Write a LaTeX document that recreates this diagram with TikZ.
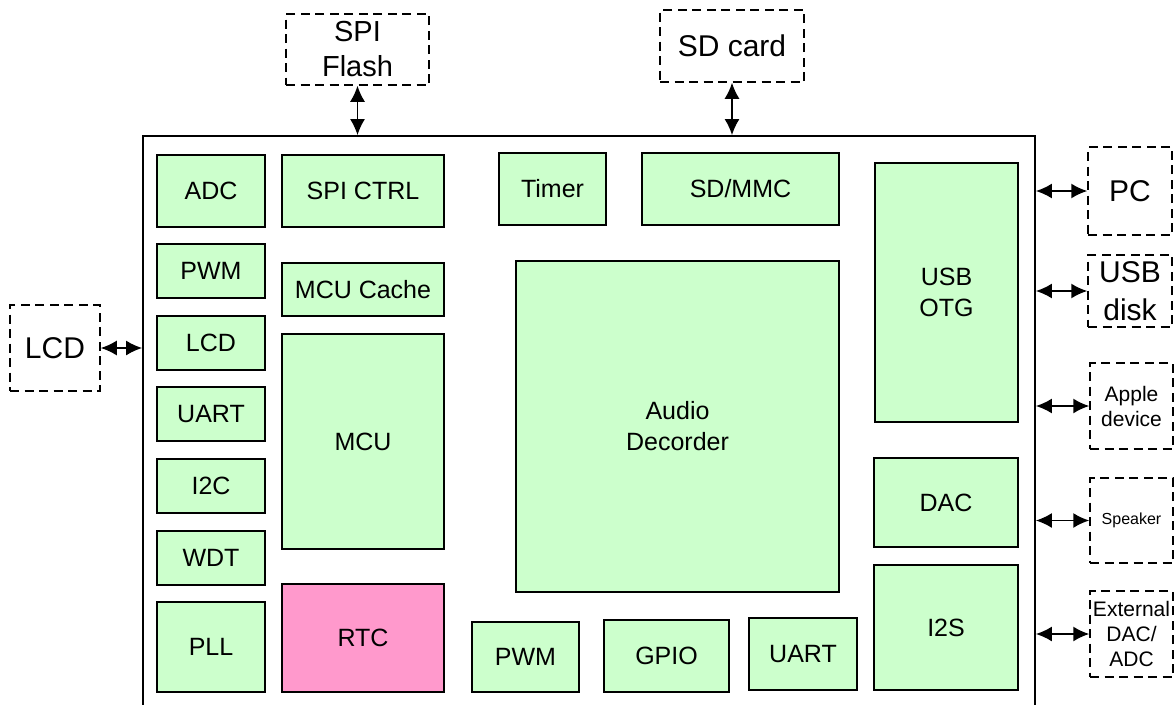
\documentclass[tikz,border=0pt]{standalone}
\usepackage{fontspec}
\setmainfont{Liberation Sans}
\usepackage{tikz}
\usetikzlibrary{arrows.meta}

\definecolor{blkgreen}{HTML}{CCFFCC}
\definecolor{blkpink}{HTML}{FF99CC}

\tikzset{
  blk/.style={draw, line width=1.6pt, fill=blkgreen, inner sep=0pt, align=center,
    font=\fontsize{25}{31}\selectfont},
  extdev/.style={draw, dashed, dash pattern=on 9pt off 5.5pt, line width=1.5pt,
    inner sep=0pt, align=center, font=\fontsize{30}{36}\selectfont},
  boxsize/.style 2 args={minimum width=#1pt, minimum height=#2pt},
  link/.style={{Latex[length=16pt,width=15pt]}-{Latex[length=16pt,width=15pt]}, line width=1.6pt}
}

\begin{document}
\begin{tikzpicture}[x=1pt,y=-1pt]
\useasboundingbox (0,0) rectangle (1175,704);

% chip outline (runs off the bottom)
\node[draw, line width=1.8pt, boxsize={892}{584}] (chip) at (589,428) {};

% left column
\node[blk, boxsize={108}{72}] (adc) at (211,191) {ADC};
\node[blk, boxsize={108}{54}] (pwml) at (211,271) {PWM};
\node[blk, boxsize={108}{54}] (lcd) at (211,343) {LCD};
\node[blk, boxsize={108}{54}] (uartl) at (211,414) {UART};
\node[blk, boxsize={108}{54}] (i2c) at (211,486) {I2C};
\node[blk, boxsize={108}{54}] (wdt) at (211,558) {WDT};
\node[blk, boxsize={108}{90}] (pll) at (211,647) {PLL};

% second column
\node[blk, boxsize={162}{72}] (spictrl) at (363,191) {SPI CTRL};
\node[blk, boxsize={162}{53}] (cache) at (363,289.5) {MCU Cache};
\node[blk, boxsize={162}{215}] (mcu) at (363,441.5) {MCU};
\node[blk, fill=blkpink, boxsize={162}{108}] (rtc) at (363,638) {RTC};

% middle
\node[blk, boxsize={107}{72}] (timer) at (552.5,189) {Timer};
\node[blk, boxsize={197}{72}] (sdmmc) at (740.5,189) {SD/MMC};
\node[blk, boxsize={323}{331}] (audio) at (677.5,426.5) {Audio\\Decorder};
\node[blk, boxsize={107}{70}] (pwmb) at (525.5,657) {PWM};
\node[blk, boxsize={125}{72}] (gpio) at (666.5,656) {GPIO};
\node[blk, boxsize={108}{72}] (uartb) at (803,654) {UART};

% right column
\node[blk, boxsize={143}{259}] (usb) at (946.5,292.5) {USB\\OTG};
\node[blk, boxsize={144}{89}] (dac) at (946,502.5) {DAC};
\node[blk, boxsize={144}{125}] (i2s) at (946,627.5) {I2S};

% external devices
\node[extdev, boxsize={90}{86}] (lcdx) at (55,348) {LCD};
\node[extdev, font=\fontsize{29}{35}\selectfont, boxsize={143}{71}] (flash) at (357.5,49.5) {SPI\\Flash};
\node[extdev, boxsize={144}{72}] (sdcard) at (732,46) {SD card};
\node[extdev, boxsize={84}{88}] (pc) at (1130,191) {PC};
\node[extdev, font=\fontsize{30}{38}\selectfont, boxsize={84}{72}] (disk) at (1130,291) {USB\\disk};
\node[extdev, font=\fontsize{21}{25}\selectfont, boxsize={83}{86}] (apple) at (1131.5,406) {Apple\\device};
\node[extdev, font=\fontsize{16}{19}\selectfont, boxsize={83}{85}] (spk) at (1131.5,520.5) {Speaker};
\node[extdev, font=\fontsize{21}{25}\selectfont, boxsize={83}{86}] (extdac) at (1131.5,634) {External\\DAC/\\ADC};

% links
\draw[link] (lcdx.east) -- (lcdx.east -| chip.west);
\draw[link] (flash.south) -- (flash.south |- chip.north);
\draw[link] (sdcard.south) -- (sdcard.south |- chip.north);
\draw[link] (pc.west) -- (pc.west -| chip.east);
\draw[link] (disk.west) -- (disk.west -| chip.east);
\draw[link] (apple.west) -- (apple.west -| chip.east);
\draw[link] (spk.west) -- (spk.west -| chip.east);
\draw[link] (extdac.west) -- (extdac.west -| chip.east);
\end{tikzpicture}
\end{document}
